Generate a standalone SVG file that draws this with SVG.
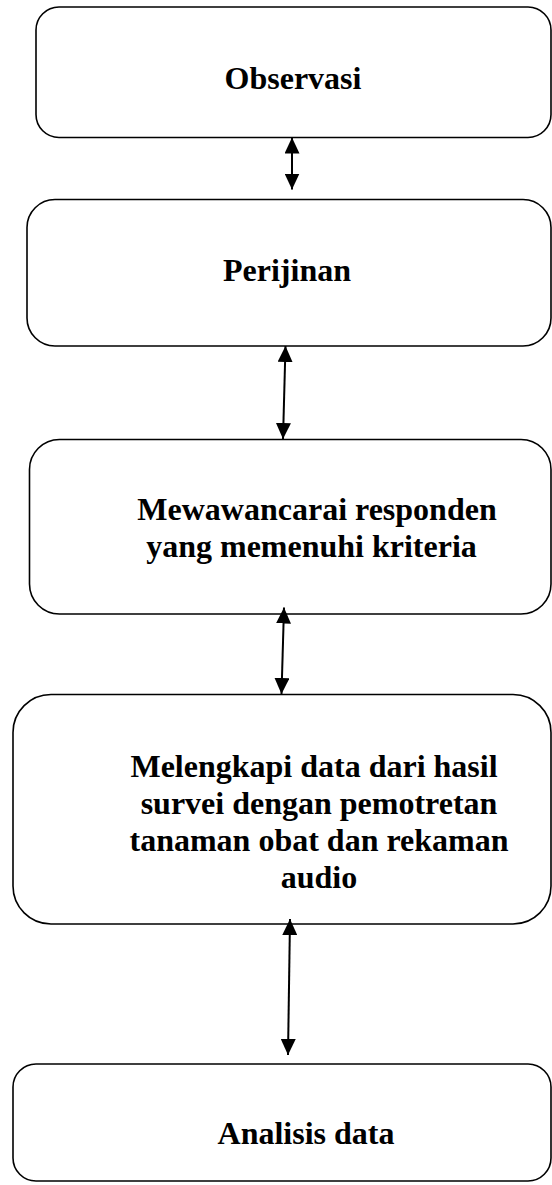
<svg xmlns="http://www.w3.org/2000/svg" width="552" height="1185" viewBox="0 0 552 1185">
<style>
.box{fill:#fff;stroke:#000;stroke-width:1.6}
.lbl{font-family:"Liberation Serif","Times New Roman",serif;font-weight:bold;font-size:32px;fill:#000;text-anchor:middle}
.con{stroke:#000;stroke-width:2;fill:none;marker-start:url(#ah);marker-end:url(#ah)}
</style>
<defs>
<marker id="ah" viewBox="0 0 16 15" refX="16" refY="7.5" markerWidth="16" markerHeight="15" markerUnits="userSpaceOnUse" orient="auto-start-reverse">
<path d="M0,0 L16,7.5 L0,15 Z" fill="#000"/>
</marker>
</defs>
<rect width="552" height="1185" fill="#fff"/>
<g id="node-observasi">
<rect class="box" x="36" y="7" width="515" height="130.5" rx="23" ry="23"/>
<text class="lbl" x="293" y="89">Observasi</text>
</g>
<g id="node-perijinan">
<rect class="box" x="27" y="199.5" width="524" height="146.5" rx="28" ry="28"/>
<text class="lbl" x="287" y="281">Perijinan</text>
</g>
<g id="node-wawancara">
<rect class="box" x="29.5" y="439.5" width="521.5" height="174.5" rx="30" ry="30"/>
<text class="lbl" x="317" y="520">Mewawancarai responden</text>
<text class="lbl" x="311.5" y="557">yang memenuhi kriteria</text>
</g>
<g id="node-melengkapi">
<rect class="box" x="13" y="694.5" width="538" height="229.5" rx="38" ry="38"/>
<text class="lbl" x="314" y="777">Melengkapi data dari hasil</text>
<text class="lbl" x="319" y="814">survei dengan pemotretan</text>
<text class="lbl" x="319" y="851">tanaman obat dan rekaman</text>
<text class="lbl" x="319" y="888">audio</text>
</g>
<g id="node-analisis">
<rect class="box" x="13" y="1064" width="538" height="117" rx="23" ry="23"/>
<text class="lbl" x="306" y="1144">Analisis data</text>
</g>
<g id="connectors">
<line class="con" x1="292" y1="137.5" x2="292" y2="189.5"/>
<line class="con" x1="285.5" y1="346" x2="283" y2="439"/>
<line class="con" x1="284" y1="607.5" x2="281.5" y2="694"/>
<line class="con" x1="290" y1="919" x2="288" y2="1055"/>
</g>
</svg>
